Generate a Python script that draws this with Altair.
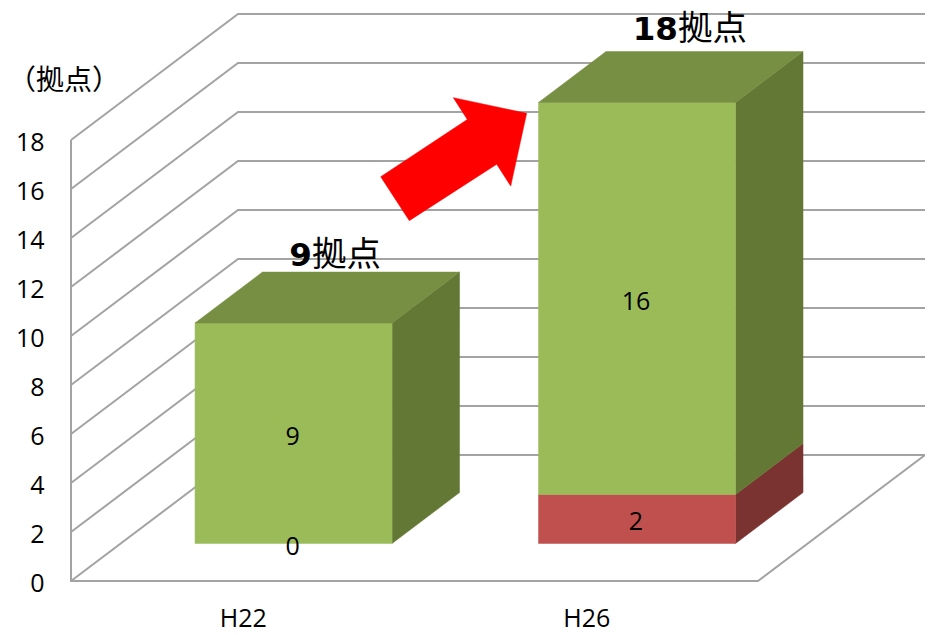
import altair as alt
import pandas as pd

# ---- chart values -------------------------------------------------------
categories = ["H22", "H26"]
series_lower = [0, 2]       # red segment
series_upper = [9, 16]      # green segment
y_ticks = [0, 2, 4, 6, 8, 10, 12, 14, 16, 18]
unit_word = "拠点"
axis_unit = "（拠点）"

front_colors = ["#C0504D", "#9BBB59"]
side_colors = ["#7A3331", "#647835"]
top_color = "#778F42"
grid_color = "#A3A3A3"
TEXT_FONT = "Open Sans"
CJK_FONT = "Noto Sans CJK JP"

# oblique projection of the box: one category = 1 x unit, values = y units
DEPTH_X = 0.4862
DEPTH_Y = 5.143
BAR_HALF = 0.2868
BAR_SHIFT = 0.003
BAR_D0 = 0.298
BAR_D1 = 0.702
X_MAX = 2.4862
Y_MAX = 23.39

# total label anchors (x, y) in chart units
total_x = [0.7016, 1.767]
total_y = [13.31, 22.57]
# arrow annotation outline in chart units
arrow_x = [0.9016, 1.1537, 1.1130, 1.3266, 1.2801, 1.2393, 0.9849]
arrow_y = [16.50, 18.84, 19.73, 19.09, 16.12, 17.01, 14.71]


def proj(cx, v, d):
    return cx + DEPTH_X * d, v + DEPTH_Y * d


def poly_layer(points, colour):
    df = pd.DataFrame({
        "px": [p[0] for p in points],
        "py": [p[1] for p in points],
        "o": list(range(len(points))),
    })
    return alt.Chart(df).mark_line(
        interpolate="linear-closed", fill=colour, stroke=colour, strokeWidth=0.5,
        strokeJoin="miter", opacity=1,
    ).encode(x="px:Q", y="py:Q", order=alt.Order("o:Q"))


# ---- faces --------------------------------------------------------------
face_layers = []
for i, cat in enumerate(categories):
    c = i + 0.5 + BAR_SHIFT
    base = 0.0
    x0, x1 = c - BAR_HALF, c + BAR_HALF
    totals = series_lower[i] + series_upper[i]
    for s, val in enumerate([series_lower[i], series_upper[i]]):
        if val == 0:
            continue
        top = base + val
        a0 = proj(x1, base, BAR_D0)
        a1 = proj(x1, top, BAR_D0)
        b0 = proj(x1, base, BAR_D1)
        b1 = proj(x1, top, BAR_D1)
        face_layers.append(poly_layer([a0, a1, b1, b0], side_colors[s]))
        f0 = proj(x0, base, BAR_D0)
        f1 = proj(x0, top, BAR_D0)
        face_layers.append(poly_layer([f0, f1, a1, a0], front_colors[s]))
        base = top
    p0 = proj(x0, totals, BAR_D0)
    p1 = proj(x1, totals, BAR_D0)
    q0 = proj(x0, totals, BAR_D1)
    q1 = proj(x1, totals, BAR_D1)
    face_layers.append(poly_layer([p0, q0, q1, p1], top_color))

# ---- grid ---------------------------------------------------------------
grid_rows = []
for v in y_ticks:
    for o, (x, y) in enumerate([(0, v), (DEPTH_X, v + DEPTH_Y), (DEPTH_X + 2, v + DEPTH_Y)]):
        grid_rows.append({"g": f"g{v}", "o": o, "x": x, "y": y})
for o, (x, y) in enumerate([(0, y_ticks[-1]), (0, 0), (2, 0), (2 + DEPTH_X, DEPTH_Y)]):
    grid_rows.append({"g": "frame", "o": o, "x": x, "y": y})
grid = pd.DataFrame(grid_rows)

# ---- text ---------------------------------------------------------------
seg_rows = []
for i in range(2):
    xt, yt = proj(i + 0.5, series_lower[i] / 2, BAR_D0)
    seg_rows.append({"x": xt, "y": yt, "t": str(series_lower[i])})
    xt, yt = proj(i + 0.5, series_lower[i] + series_upper[i] / 2, BAR_D0)
    seg_rows.append({"x": xt, "y": yt, "t": str(series_upper[i])})
seg = pd.DataFrame(seg_rows)

tot = pd.DataFrame({
    "x": total_x, "y": total_y,
    "n": [str(a + b) for a, b in zip(series_lower, series_upper)],
    "w": [unit_word] * 2,
})

# ---- scales -------------------------------------------------------------
label_expr = "datum.value < 1 ? '%s' : '%s'" % tuple(categories)
X = alt.X("x:Q", scale=alt.Scale(domain=[0, X_MAX], nice=False, zero=False),
          axis=alt.Axis(values=[0.5, 1.5], labelExpr=label_expr, title=None, grid=False,
                        domain=False, ticks=False, labelFont=TEXT_FONT, labelFontSize=25,
                        labelColor="#000000", labelPadding=25, labelAngle=0))
Y = alt.Y("y:Q", scale=alt.Scale(domain=[0, Y_MAX], nice=False, zero=False),
          axis=alt.Axis(values=y_ticks, title=None, grid=False, domain=False, ticks=False,
                        labelFont=TEXT_FONT, labelFontSize=25, labelColor="#000000",
                        labelPadding=27, labelOffset=2))

grid_layer = alt.Chart(grid).mark_line(color=grid_color, strokeWidth=2, strokeJoin="miter").encode(
    x=X, y=Y, detail="g:N", order="o:Q")

seg_layer = alt.Chart(seg).mark_text(font=TEXT_FONT, fontSize=25, color="#000000", dy=3.5).encode(
    x="x:Q", y="y:Q", text="t:N")

num_layer = alt.Chart(tot).mark_text(font="DejaVu Sans", fontWeight="bold", fontSize=32.5,
                                     color="#000000", align="right", dy=1.5).encode(
    x="x:Q", y="y:Q", text="n:N")
word_layer = alt.Chart(tot).mark_text(font=CJK_FONT, fontSize=34.5, color="#000000",
                                      align="left", dy=1.5).encode(
    x="x:Q", y="y:Q", text="w:N")

unit_layer = alt.Chart(pd.DataFrame({"x": [0.0], "y": [20.45], "t": [axis_unit]})).mark_text(
    font=CJK_FONT, fontSize=28, color="#000000", dx=-7, dy=2).encode(x="x:Q", y="y:Q", text="t:N")

arrow_layer = poly_layer(list(zip(arrow_x, arrow_y)), "#FF0000")

chart = alt.layer(
    grid_layer, *face_layers, seg_layer, num_layer, word_layer, unit_layer, arrow_layer
).properties(
    width=854, height=573,
    autosize=alt.AutoSizeParams(type="none"),
    padding={"left": 63, "top": 0, "right": 0, "bottom": 54},
    background="#FFFFFF",
).configure_view(stroke=None)

chart.save("out.html", embed_options={"renderer": "svg", "actions": False})
